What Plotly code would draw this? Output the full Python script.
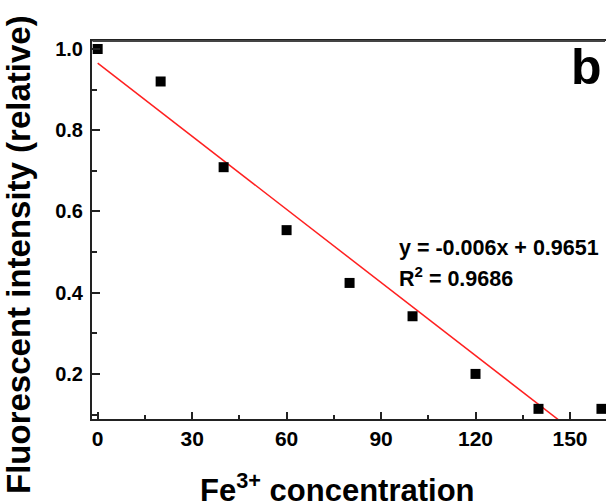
import plotly.graph_objects as go

# Data
conc = [0, 20, 40, 60, 80, 100, 120, 140, 160]
intensity = [1.0, 0.92, 0.709, 0.554, 0.424, 0.342, 0.20, 0.114, 0.114]
fit_slope = -0.006
fit_intercept = 0.9651
fit_x = [0, 160]
fit_y = [fit_slope * x + fit_intercept for x in fit_x]
eq_line1 = "y = -0.006x + 0.9651"
eq_line2 = "R<sup>2</sup> = 0.9686"
x_title = "Fe<sup>3+</sup> concentration"
y_title = "Fluorescent intensity (relative)"
panel_label = "b"

W, H = 606, 501
L, R, T, B = 92, 0, 41, 82
PW, PH = W - L - R, H - T - B

def px(xp):
    return (xp - L) / PW

def py(yp):
    return (H - B - yp) / PH

FONT = "Arial"
X_RANGE = [-1.8, (W - 97.3) / 3.151]
Y_RANGE = [0.089, 1.0197]

fig = go.Figure()
fig.add_trace(go.Scatter(x=fit_x, y=fit_y, mode="lines",
                         line=dict(color="#ff2020", width=1.5),
                         showlegend=False, hoverinfo="skip"))
fig.add_trace(go.Scatter(x=conc, y=intensity, mode="markers",
                         marker=dict(symbol="square", size=10, color="black"),
                         showlegend=False))

fig.update_layout(
    width=W, height=H,
    margin=dict(l=L, r=R, t=T, b=B),
    plot_bgcolor="white", paper_bgcolor="white",
    font=dict(family=FONT, color="black"),
    xaxis=dict(range=X_RANGE, tick0=0, dtick=30,
               ticks="inside", ticklen=7, tickwidth=1.5, tickcolor="#222",
               minor=dict(dtick=15, ticks="inside", ticklen=4, tickwidth=1.5, tickcolor="#222"),
               showline=True, linecolor="#222", linewidth=2, mirror=True,
               showgrid=False, zeroline=False,
               tickfont=dict(size=21, family=FONT, weight="bold")),
    yaxis=dict(range=Y_RANGE, tick0=0.2, dtick=0.2,
               ticks="inside", ticklen=8, tickwidth=1.5, tickcolor="#222",
               minor=dict(dtick=0.1, ticks="inside", ticklen=5, tickwidth=1.5, tickcolor="#222"),
               showline=True, linecolor="#222", linewidth=2, mirror=False,
               showgrid=False, zeroline=False, tickformat=".1f",
               tickfont=dict(size=20, family=FONT, weight="bold"),
               ticklabelstandoff=3),
    annotations=[
        # top border of the plot box, drawn as a plain arrow line across the box
        dict(text="", x=1, y=1, xref="paper", yref="paper",
             showarrow=True, arrowhead=0, arrowwidth=2, arrowcolor="#444",
             ax=-PW - 1, ay=0, axref="pixel", ayref="pixel", standoff=0, startstandoff=0),
        dict(text=f"<b>{eq_line1}</b>", x=95.0, y=0.51, xref="x", yref="y",
             xanchor="left", yanchor="middle", showarrow=False,
             font=dict(size=21.5, family=FONT)),
        dict(text=f"<b>{eq_line2}</b>", x=95.0, y=0.438, xref="x", yref="y",
             xanchor="left", yanchor="middle", showarrow=False,
             font=dict(size=21.5, family=FONT)),
        dict(text=f"<b>{x_title}</b>", x=px(337), y=py(488), xref="paper", yref="paper",
             xanchor="center", yanchor="middle", showarrow=False,
             font=dict(size=31, family=FONT)),
        dict(text=f"<b>{y_title}</b>", x=px(18), y=py(255), xref="paper", yref="paper",
             xanchor="center", yanchor="middle", showarrow=False, textangle=-90,
             font=dict(size=33, family=FONT)),
        dict(text=f"<b>{panel_label}</b>", x=px(586), y=py(67), xref="paper", yref="paper",
             xanchor="center", yanchor="middle", showarrow=False,
             font=dict(size=50, family=FONT)),
    ],
)

fig.write_html("out.html", config={"displayModeBar": False},
               post_script="document.body.style.margin='0';document.body.style.overflow='hidden';")
